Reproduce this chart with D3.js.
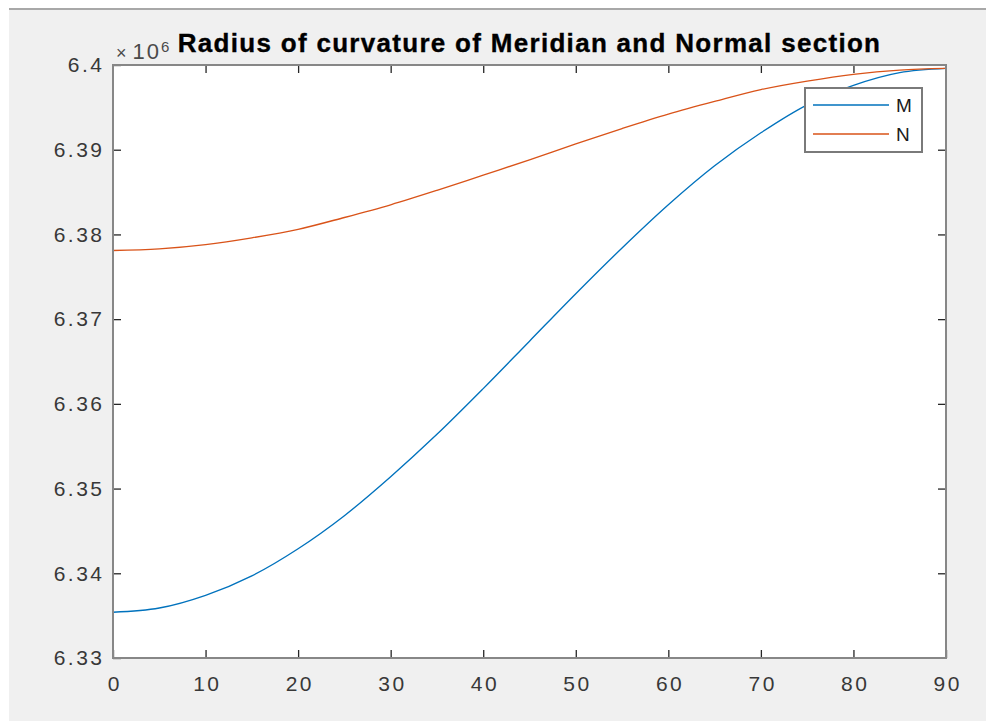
<!DOCTYPE html>
<html>
<head>
<meta charset="utf-8">
<script src="https://cdn.jsdelivr.net/npm/d3@7"></script>
<style>
  html, body { margin: 0; padding: 0; background: #ffffff; }
  svg { display: block; }
  text { font-family: "Liberation Sans", Arial, Helvetica, sans-serif; }
</style>
</head>
<body>
<svg id="chart" width="986" height="721"></svg>
<script>
// Latitude (degrees)
const latitude = [0, 5, 10, 15, 20, 25, 30, 35, 40, 45, 50, 55, 60, 65, 70, 75, 80, 85, 90];
// Radius of curvature in the meridian, M (×10^6 m)
const meridianM = [6.3354, 6.3359, 6.3374, 6.3397, 6.3429, 6.3468, 6.3514, 6.3564, 6.3618, 6.3674,
                   6.3730, 6.3784, 6.3835, 6.3881, 6.3920, 6.3953, 6.3976, 6.3991, 6.3996];
// Radius of curvature in the prime vertical (normal section), N (×10^6 m)
const normalN = [6.3781, 6.3783, 6.3788, 6.3796, 6.3806, 6.3820, 6.3835, 6.3852, 6.3870, 6.3888,
                 6.3907, 6.3925, 6.3942, 6.3957, 6.3971, 6.3981, 6.3989, 6.3994, 6.3996];
const xTicks = [0, 10, 20, 30, 40, 50, 60, 70, 80, 90];
const yTicks = [6.33, 6.34, 6.35, 6.36, 6.37, 6.38, 6.39, 6.40];
const seriesNames = ["M", "N"];
const seriesColors = ["#0072BD", "#D95319"];
const titleText = "Radius of curvature of Meridian and Normal section";

const svg = d3.select("#chart");

// Figure panel
svg.append("rect").attr("x", 9).attr("y", 8).attr("width", 977).attr("height", 713).attr("fill", "#f0f0f0");
svg.append("line").attr("x1", 9).attr("x2", 986).attr("y1", 9).attr("y2", 9)
  .attr("stroke", "#a8a8a8").attr("stroke-width", 2);

const plotL = 113, plotR = 946, plotT = 65, plotB = 658;
const x = d3.scaleLinear().domain([0, 90]).range([plotL, plotR]);
const y = d3.scaleLinear().domain([6.33, 6.40]).range([plotB, plotT]);

// Plot area
svg.append("rect").attr("x", plotL).attr("y", plotT).attr("width", plotR - plotL).attr("height", plotB - plotT)
  .attr("fill", "#ffffff");

// Lines
const line = d3.line().x(d => x(d[0])).y(d => y(d[1])).curve(d3.curveCatmullRom);
[meridianM, normalN].forEach((vals, i) => {
  svg.append("path")
    .datum(latitude.map((lat, j) => [lat, vals[j]]))
    .attr("d", line)
    .attr("fill", "none")
    .attr("stroke", seriesColors[i])
    .attr("stroke-width", 1.35);
});

// Axes (ticks inside, box on)
const axisColor = "#878787";
const tickLen = 8;
const labelSpacing = 2.5;
function styleAxis(g, labels) {
  g.select(".domain").remove();
  g.selectAll(".tick line").attr("stroke", "#262626").attr("stroke-width", 1.3);
  if (labels) {
    g.selectAll(".tick text").attr("fill", "#383838")
      .style("font-size", "21px").style("letter-spacing", labelSpacing + "px");
  } else {
    g.selectAll(".tick text").remove();
  }
}
const xAxisB = d3.axisBottom(x).tickValues(xTicks).tickFormat(d3.format("d")).tickSizeInner(-tickLen).tickSizeOuter(0).tickPadding(18);
const xAxisT = d3.axisTop(x).tickValues(xTicks.slice(1, -1)).tickSizeInner(-tickLen).tickSizeOuter(0);
const yAxisL = d3.axisLeft(y).tickValues(yTicks).tickFormat(d => d === 6.4 ? "6.4" : d3.format(".2f")(d)).tickSizeInner(-tickLen).tickSizeOuter(0).tickPadding(10);
const yAxisR = d3.axisRight(y).tickValues(yTicks.slice(1, -1)).tickSizeInner(-tickLen).tickSizeOuter(0);

svg.append("g").attr("transform", `translate(0,${plotB})`).call(xAxisB)
  .call(g => styleAxis(g, true))
  .call(g => g.selectAll(".tick text").attr("dx", labelSpacing / 2));
svg.append("g").attr("transform", `translate(0,${plotT})`).call(xAxisT).call(g => styleAxis(g, false));
svg.append("g").attr("transform", `translate(${plotL},0)`).call(yAxisL)
  .call(g => styleAxis(g, true))
  .call(g => g.selectAll(".tick text").attr("dx", labelSpacing - 1));
svg.append("g").attr("transform", `translate(${plotR},0)`).call(yAxisR).call(g => styleAxis(g, false));

svg.append("rect").attr("x", plotL).attr("y", plotT).attr("width", plotR - plotL).attr("height", plotB - plotT)
  .attr("fill", "none").attr("stroke", axisColor).attr("stroke-width", 2);

// Exponent label
const expo = svg.append("text").attr("x", plotL + 3).attr("y", 59).attr("fill", "#4a4a4a");
expo.append("tspan").style("font-size", "18px").text("×");
expo.append("tspan").attr("dx", 6).style("font-size", "22px").style("letter-spacing", "2px").text("10");
expo.append("tspan").attr("dy", -7).style("font-size", "15px").text("6");

// Title
svg.append("text")
  .attr("x", (plotL + plotR) / 2).attr("y", 52)
  .attr("text-anchor", "middle")
  .attr("fill", "#000000")
  .attr("stroke", "#000000").attr("stroke-width", 0.35)
  .style("font-size", "26px").style("font-weight", "bold").style("letter-spacing", "1.3px")
  .text(titleText);

// Legend
const lg = svg.append("g");
lg.append("rect").attr("x", 805).attr("y", 88).attr("width", 117).attr("height", 64)
  .attr("fill", "#ffffff").attr("stroke", "#7a7a7a").attr("stroke-width", 2);
seriesNames.forEach((name, i) => {
  const yy = 105 + i * 29;
  lg.append("line").attr("x1", 813).attr("x2", 889).attr("y1", yy).attr("y2", yy)
    .attr("stroke", seriesColors[i]).attr("stroke-width", 1.35);
  lg.append("text").attr("x", 896).attr("y", yy + 7).attr("fill", "#1a1a1a")
    .style("font-size", "19px").text(name);
});
</script>
</body>
</html>
